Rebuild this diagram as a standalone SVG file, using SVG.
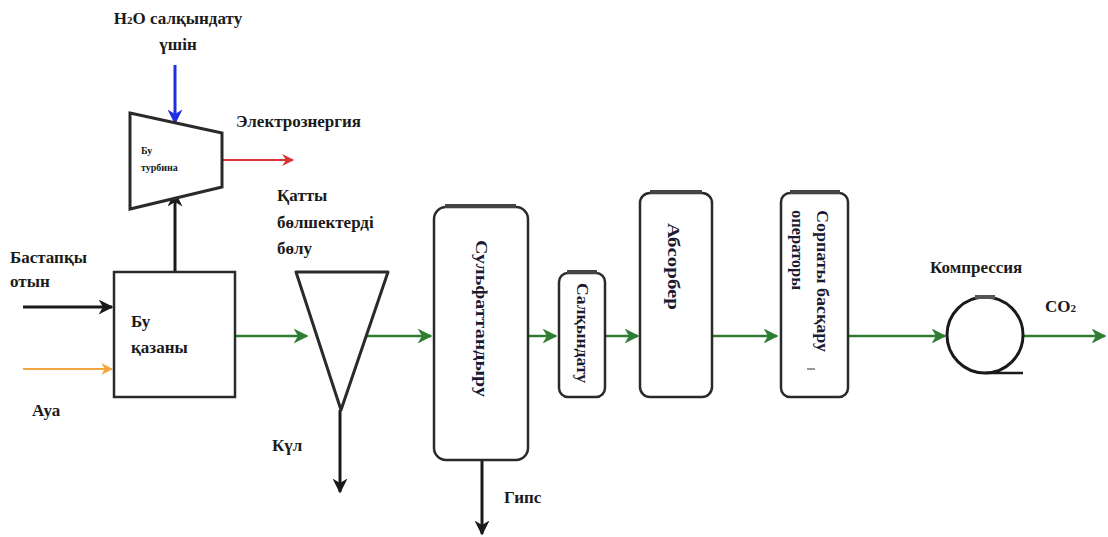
<svg xmlns="http://www.w3.org/2000/svg" width="1108" height="537" viewBox="0 0 1108 537">
  <style>
    .lbl { font-family: "Liberation Serif", "DejaVu Serif", serif; font-weight: bold; font-size: 17px; fill: #1a1a1a; }
    .vl { font-family: "Liberation Serif", "DejaVu Serif", serif; font-weight: bold; font-size: 16px; fill: #1a1a33; }
    .small { font-family: "Liberation Serif", "DejaVu Serif", serif; font-weight: bold; font-size: 10px; fill: #1a1a1a; }
    .box { fill: #ffffff; stroke: #2a2a2a; stroke-width: 2.5; }
    .cap { stroke: #444; stroke-width: 4; fill: none; }
    .blk { stroke: #1a1a1a; stroke-width: 3; fill: none; }
    .grn { stroke: #2e7d32; stroke-width: 2.5; fill: none; }
  </style>
  <defs>
    <marker id="ah-black" viewBox="0 0 10 10" refX="9" refY="5" markerWidth="5" markerHeight="5" orient="auto" markerUnits="strokeWidth">
      <path d="M0,0 L10,5 L0,10 L3,5 z" fill="#1a1a1a"/>
    </marker>
    <marker id="ah-green" viewBox="0 0 10 10" refX="9" refY="5" markerWidth="6" markerHeight="6" orient="auto" markerUnits="strokeWidth">
      <path d="M0,0 L10,5 L0,10 L3,5 z" fill="#2e7d32"/>
    </marker>
    <marker id="ah-blue" viewBox="0 0 10 10" refX="9" refY="5" markerWidth="5" markerHeight="5" orient="auto" markerUnits="strokeWidth">
      <path d="M0,0 L10,5 L0,10 L3,5 z" fill="#1f2fe0"/>
    </marker>
    <marker id="ah-red" viewBox="0 0 10 10" refX="9" refY="5" markerWidth="6" markerHeight="6" orient="auto" markerUnits="strokeWidth">
      <path d="M0,0 L10,5 L0,10 L3,5 z" fill="#d9333a"/>
    </marker>
    <marker id="ah-orange" viewBox="0 0 10 10" refX="9" refY="5" markerWidth="6" markerHeight="6" orient="auto" markerUnits="strokeWidth">
      <path d="M0,0 L10,5 L0,10 L3,5 z" fill="#f4a640"/>
    </marker>
  </defs>

  <rect width="1108" height="537" fill="#ffffff"/>

  <!-- connectors -->
  <g id="connectors">
    <line x1="175" y1="65" x2="175" y2="123" stroke="#1f2fe0" stroke-width="3" marker-end="url(#ah-blue)"/>
    <line x1="222" y1="160" x2="293" y2="160" stroke="#d9333a" stroke-width="2" marker-end="url(#ah-red)"/>
    <line x1="175" y1="271" x2="175" y2="193" class="blk" marker-end="url(#ah-black)"/>
    <line x1="23" y1="307" x2="112" y2="307" class="blk" marker-end="url(#ah-black)"/>
    <line x1="23" y1="369" x2="112" y2="369" stroke="#f4a640" stroke-width="2" marker-end="url(#ah-orange)"/>
    <line x1="236" y1="336" x2="307" y2="336" class="grn" marker-end="url(#ah-green)"/>
    <line x1="340" y1="410" x2="340" y2="492" class="blk" marker-end="url(#ah-black)"/>
    <line x1="367" y1="336" x2="431" y2="336" class="grn" marker-end="url(#ah-green)"/>
    <line x1="482" y1="461" x2="482" y2="534" class="blk" marker-end="url(#ah-black)"/>
    <line x1="529" y1="336" x2="556" y2="336" class="grn" marker-end="url(#ah-green)"/>
    <line x1="606" y1="336" x2="638" y2="336" class="grn" marker-end="url(#ah-green)"/>
    <line x1="713" y1="336" x2="777" y2="336" class="grn" marker-end="url(#ah-green)"/>
    <line x1="849" y1="336" x2="945" y2="336" class="grn" marker-end="url(#ah-green)"/>
    <line x1="1023" y1="336" x2="1105" y2="336" class="grn" marker-end="url(#ah-green)"/>
  </g>

  <!-- labels outside nodes -->
  <g id="labels">
    <text class="lbl" x="178" y="24" text-anchor="middle">H<tspan font-size="11">2</tspan>O салқындату</text>
    <text class="lbl" x="178" y="50" text-anchor="middle">үшін</text>
    <text class="lbl" x="236" y="127">Электрознергия</text>
    <text class="lbl" x="10" y="263">Бастапқы</text>
    <text class="lbl" x="10" y="287">отын</text>
    <text class="lbl" x="32" y="416">Ауа</text>
    <text class="lbl" x="277" y="201">Қатты</text>
    <text class="lbl" x="277" y="228">бөлшектерді</text>
    <text class="lbl" x="277" y="254">бөлу</text>
    <text class="lbl" x="272" y="451">Күл</text>
    <text class="lbl" x="504" y="503">Гипс</text>
    <text class="lbl" x="930" y="273">Компрессия</text>
    <text class="lbl" x="1045" y="312">CO<tspan font-size="11">2</tspan></text>
  </g>

  <!-- steam turbine -->
  <g id="turbine">
    <polygon points="130,113 222,133 222,187 130,209" fill="#ffffff" stroke="#2a2a2a" stroke-width="3"/>
    <text class="small" x="141" y="154">Бу</text>
    <text class="small" x="141" y="171">турбина</text>
  </g>

  <!-- boiler -->
  <g id="boiler">
    <rect class="box" x="114" y="272" width="121" height="125" stroke-width="3"/>
    <text class="lbl" x="131" y="327">Бу</text>
    <text class="lbl" x="131" y="353">қазаны</text>
  </g>

  <!-- particle separator -->
  <g id="separator">
    <polygon points="296,272 388,272 341,410" fill="#ffffff" stroke="#2a2a2a" stroke-width="3" stroke-linejoin="round"/>
  </g>

  <!-- desulfurisation column -->
  <g id="desulfurisation">
    <rect class="box" x="434" y="207" width="94" height="253" rx="12"/>
    <line class="cap" x1="445" y1="206" x2="516" y2="206"/>
    <text class="vl" font-size="18" textLength="157" lengthAdjust="spacingAndGlyphs" transform="translate(476,240) rotate(90)">Сульфаттандыру</text>
  </g>

  <!-- cooling -->
  <g id="cooling">
    <rect class="box" x="559" y="273" width="46" height="124" rx="9"/>
    <line class="cap" x1="567" y1="272" x2="597" y2="272"/>
    <text class="vl" font-size="13" textLength="100" lengthAdjust="spacingAndGlyphs" transform="translate(577,283) rotate(90)">Салқындату</text>
  </g>

  <!-- absorber -->
  <g id="absorber">
    <rect class="box" x="640" y="193" width="72" height="204" rx="10"/>
    <line class="cap" x1="650" y1="192" x2="702" y2="192"/>
    <text class="vl" font-size="17" textLength="87" lengthAdjust="spacingAndGlyphs" transform="translate(668,223) rotate(90)">Абсорбер</text>
  </g>

  <!-- operator column -->
  <g id="operator">
    <rect class="box" x="781" y="193" width="67" height="204" rx="9"/>
    <line class="cap" x1="790" y1="192" x2="840" y2="192"/>
    <text class="vl" font-size="13" textLength="142" lengthAdjust="spacingAndGlyphs" transform="translate(817,210) rotate(90)">Сорпаты басқару</text>
    <text class="vl" font-size="13" textLength="80" lengthAdjust="spacingAndGlyphs" transform="translate(792,210) rotate(90)">операторы</text>
    <line x1="807" y1="369" x2="815" y2="369" stroke="#555" stroke-width="1.2"/>
  </g>

  <!-- compressor -->
  <g id="compressor">
    <circle cx="985" cy="335" r="38" fill="#ffffff" stroke="#1a1a1a" stroke-width="3"/>
    <line x1="985" y1="373" x2="1023" y2="373" stroke="#1a1a1a" stroke-width="2.5"/>
    <line x1="975" y1="297" x2="995" y2="297" stroke="#555" stroke-width="4"/>
  </g>
</svg>
